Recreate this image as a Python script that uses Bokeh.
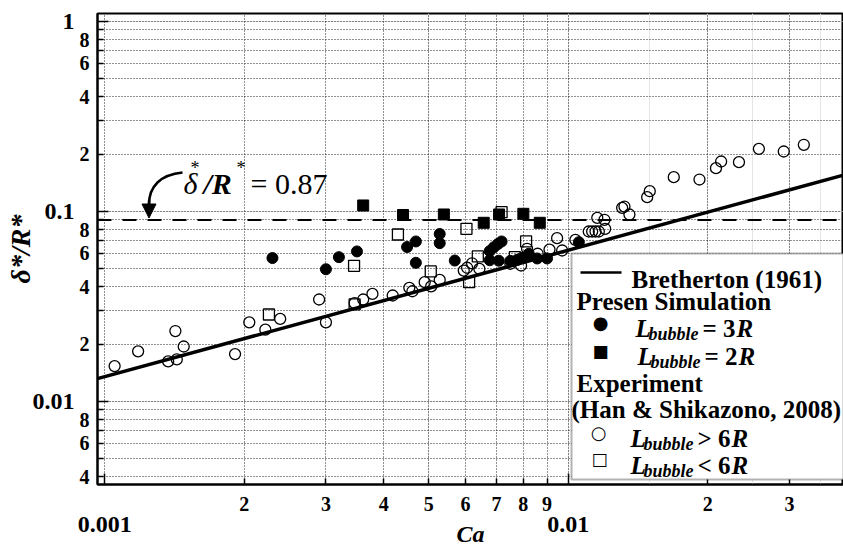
import numpy as np
from bokeh.plotting import figure
from bokeh.models import (LogAxis, FixedTicker, Grid, Range1d, Span, Label,
                          BoxAnnotation, Arrow, NormalHead)
from bokeh.embed import file_html
from bokeh.resources import INLINE

# ---------------- data ----------------
bretherton_ca = [0.00096, 0.0393]
bretherton_delta = [0.0131, 0.155]
critical_delta = 0.09

sim3_ca = [0.00230, 0.00300, 0.00320, 0.00350, 0.00449, 0.00469, 0.00469, 0.00528,
           0.00528, 0.00569, 0.00677, 0.00691, 0.00705, 0.00718, 0.00677, 0.00708,
           0.00750, 0.00776, 0.00795, 0.00822, 0.00857, 0.00900, 0.01054]
sim3_delta = [0.0567, 0.0495, 0.0573, 0.0614, 0.0648, 0.0693, 0.0535, 0.0759,
              0.0679, 0.0550, 0.0617, 0.0646, 0.0672, 0.0693, 0.0552, 0.0549,
              0.0548, 0.0555, 0.0569, 0.0597, 0.0564, 0.0564, 0.0687]

sim2_ca = [0.00361, 0.00440, 0.00539, 0.00657, 0.00709, 0.00800, 0.00868]
sim2_delta = [0.1072, 0.0955, 0.0961, 0.0869, 0.0961, 0.0969, 0.0869]

exp_long_ca = [0.00105, 0.00118, 0.00142, 0.00137, 0.00143, 0.00148, 0.00191, 0.00205,
               0.00222, 0.00239, 0.00290, 0.00300, 0.00346, 0.00361, 0.00378, 0.00418,
               0.00454, 0.00461, 0.00490, 0.00506, 0.00528, 0.00595, 0.00605, 0.00620,
               0.00643, 0.00750, 0.00791, 0.00815, 0.00859, 0.00911, 0.00946, 0.00970,
               0.01036, 0.01107, 0.01126, 0.01145, 0.01164, 0.01155, 0.01197, 0.01201,
               0.01307, 0.01322, 0.01355, 0.01480, 0.01499, 0.01689, 0.01919, 0.02083,
               0.02137, 0.02335, 0.02578, 0.02917, 0.03223]
exp_long_delta = [0.0153, 0.0183, 0.0234, 0.0162, 0.0166, 0.0194, 0.0177, 0.0260,
                  0.0238, 0.0271, 0.0343, 0.0260, 0.0328, 0.0343, 0.0367, 0.0360,
                  0.0395, 0.0379, 0.0423, 0.0402, 0.0435, 0.0487, 0.0504, 0.0532,
                  0.0497, 0.0529, 0.0518, 0.0634, 0.0597, 0.0628, 0.0721, 0.0621,
                  0.0707, 0.0782, 0.0782, 0.0782, 0.0782, 0.0923, 0.0901, 0.0808,
                  0.1042, 0.1058, 0.0961, 0.1185, 0.1274, 0.1510, 0.1468, 0.1684,
                  0.1826, 0.1811, 0.2130, 0.2062, 0.2236]

exp_short_ca = [0.00226, 0.00345, 0.00346, 0.00429, 0.00505, 0.00603, 0.00611,
                0.00638, 0.00718, 0.00767, 0.00811]
exp_short_delta = [0.0286, 0.0516, 0.0323, 0.0754, 0.0482, 0.0808, 0.0423,
                   0.0578, 0.0988, 0.0573, 0.0693]

# ticks and tick labels
x_ticks = [0.001, 0.002, 0.003, 0.004, 0.005, 0.006, 0.007, 0.008, 0.009,
           0.01, 0.02, 0.03]
x_digit_labels = ["", "2", "3", "4", "5", "6", "7", "8", "9", "", "2", "3"]
x_decades = [0.001, 0.01]
x_decade_labels = ["0.001", "0.01"]

y_ticks = [0.004, 0.005, 0.006, 0.007, 0.008, 0.009,
           0.01, 0.02, 0.03, 0.04, 0.05, 0.06, 0.07, 0.08, 0.09,
           0.1, 0.2, 0.3, 0.4, 0.5, 0.6, 0.7, 0.8, 0.9, 1.0]
y_digit_labels = ["4", "", "6", "", "8", "",
                  "", "2", "", "4", "", "6", "", "8", "",
                  "", "2", "", "4", "", "6", "", "8", "", ""]
y_decades = [0.01, 0.1, 1.0]
y_decade_labels = ["0.01", "0.1", "1"]

x_title = "Ca"
y_title = "\u03b4*/R*"

# ---------------- layout constants ----------------
X_LO, X_HI = 0.0009644, 0.03925
Y_LO, Y_HI = 0.003644, 1.0978
FR_L, FR_R, FR_T, FR_B = 97.0, 843.0, 13.0, 484.0   # frame edges in px
LX0, LX1 = np.log10(X_LO), np.log10(X_HI)
LY0, LY1 = np.log10(Y_LO), np.log10(Y_HI)


def px2x(px):
    return 10 ** (LX0 + (px - FR_L) / (FR_R - FR_L) * (LX1 - LX0))


def px2y(py):
    return 10 ** (LY1 - (py - FR_T) / (FR_B - FR_T) * (LY1 - LY0))


SERIF = "Liberation Serif"

p = figure(width=843, height=549, x_axis_type="log", y_axis_type="log",
           x_range=Range1d(X_LO, X_HI), y_range=Range1d(Y_LO, Y_HI),
           x_axis_location=None, y_axis_location=None,
           output_backend="svg", toolbar_location=None,
           min_border_left=97, min_border_right=0, min_border_top=13,
           min_border_bottom=65)
p.outline_line_color = "black"
p.outline_line_width = 2
p.background_fill_color = "white"
p.border_fill_color = "white"

# grids
for dim, ticks in ((0, x_ticks), (1, y_ticks)):
    g = Grid(dimension=dim, ticker=FixedTicker(ticks=ticks),
             grid_line_color="#222222", grid_line_dash="1 2", grid_line_width=1)
    p.add_layout(g)


def tick_axis(decades, ticks):
    minor = [t for t in ticks if t not in decades]
    return LogAxis(ticker=FixedTicker(ticks=decades, minor_ticks=minor),
                   major_tick_in=11, major_tick_out=0, minor_tick_in=6, minor_tick_out=0,
                   major_tick_line_width=1.5, minor_tick_line_width=1.5,
                   axis_line_width=2,
                   major_label_overrides={d: " " for d in decades},
                   major_label_text_font_size="1px",
                   major_label_standoff=0)


def label_axis(ticks, labels, size, standoff, title=None, title_size="24px",
               title_standoff=0):
    ax = LogAxis(ticker=FixedTicker(ticks=ticks, minor_ticks=[]),
                 major_label_overrides=dict(zip(ticks, labels)),
                 axis_line_color=None, major_tick_line_color=None,
                 minor_tick_line_color=None, major_tick_in=0, major_tick_out=0,
                 minor_tick_in=0, minor_tick_out=0,
                 major_label_standoff=standoff,
                 major_label_text_font=SERIF, major_label_text_font_size=size,
                 major_label_text_font_style="bold", major_label_text_color="black")
    if title is not None:
        ax.axis_label = title
        ax.axis_label_text_font = SERIF
        ax.axis_label_text_font_size = title_size
        ax.axis_label_text_font_style = "bold italic"
        ax.axis_label_text_color = "black"
        ax.axis_label_standoff = title_standoff
    return ax


p.add_layout(tick_axis(x_decades, x_ticks), "below")
p.add_layout(label_axis(x_ticks, x_digit_labels, "20px", 8), "below")
p.add_layout(label_axis(x_decades, x_decade_labels, "24px", 3,
                        title=x_title, title_size="24px", title_standoff=-14), "below")

p.add_layout(tick_axis(y_decades, y_ticks), "left")
p.add_layout(label_axis(y_ticks, y_digit_labels, "20px", 5), "left")
p.add_layout(label_axis(y_decades, y_decade_labels, "24px", 2,
                        title=y_title, title_size="28px", title_standoff=-6), "left")

# reference lines and data
p.add_layout(Span(location=critical_delta, dimension="width", line_color="black",
                  line_width=2, line_dash="14 11"))
p.line(bretherton_ca, bretherton_delta, line_color="black", line_width=3.5)
p.scatter(exp_long_ca, exp_long_delta, marker="circle", size=11, fill_color=None,
          line_color="black", line_width=1.3)
p.scatter(exp_short_ca, exp_short_delta, marker="square", size=11, fill_color=None,
          line_color="black", line_width=1.3)
p.scatter(sim3_ca, sim3_delta, marker="circle", size=11, fill_color="black",
          line_color="black")
p.scatter(sim2_ca, sim2_delta, marker="square", size=11, fill_color="black",
          line_color="black")

# curved arrow to the critical line
p.bezier(x0=[px2x(182)], y0=[px2y(172)], x1=[px2x(148.5)], y1=[px2y(204)],
         cx0=[px2x(160)], cy0=[px2y(174)], cx1=[px2x(148.5)], cy1=[px2y(186)],
         line_color="black", line_width=2.5)
p.add_layout(Arrow(end=NormalHead(size=14, fill_color="black", line_color="black"),
                   x_start=px2x(148.5), y_start=px2y(200),
                   x_end=px2x(148.5), y_end=px2y(217.5),
                   line_color="black", line_width=2.5))


def lab(text, px, py, size, style="normal", font=SERIF, align="left",
        baseline="alphabetic", angle=0.0):
    p.add_layout(Label(x=px2x(px), y=px2y(py), text=text, text_font=font,
                       text_font_size=size, text_font_style=style,
                       text_color="black", text_align=align,
                       text_baseline=baseline, angle=angle))


# annotation text
lab("\u03b4", 183, 183, "30px", "italic")
lab("*", 190, 167, "18px")
lab("/R", 203, 183, "30px", "bold italic")
lab("*", 236, 167, "18px")
lab("= 0.87", 250, 183, "30px")

# legend (built by hand)
p.add_layout(BoxAnnotation(left=px2x(571), right=X_HI, top=px2y(253),
                           bottom=px2y(479), fill_color="white", fill_alpha=1.0,
                           line_color="black", line_width=2))
p.add_layout(Arrow(start=None, end=None, x_start=px2x(580), y_start=px2y(272),
                   x_end=px2x(621), y_end=px2y(272), line_color="black",
                   line_width=2.5))
lab("Bretherton (1961)", 631, 279, "25px", "bold")
lab("Presen Simulation", 576, 301, "25px", "bold")
lab("Experiment", 576, 383, "25px", "bold")
lab("(Han & Shikazono, 2008)", 571, 409, "25px", "bold")

MK = "DejaVu Sans"
lab("\u25cf", 600, 322, "18px", font=MK, align="center", baseline="middle")
lab("\u25a0", 600, 350, "17px", font=MK, align="center", baseline="middle")
lab("\u25cb", 598, 432, "18px", font=MK, align="center", baseline="middle")
lab("\u25a1", 599, 458, "17px", font=MK, align="center", baseline="middle")

rows = [(635, 328, "= 3"), (637, 356, "= 2"), (630, 438, "> 6"), (630, 465, "< 6")]
for lx, base, rel in rows:
    lab("L", lx, base, "25px", "bold italic")
    lab("bubble", lx + 13, base + 5, "18px", "bold italic")
    lab(rel, lx + 67, base, "25px", "bold")
    lab("R", lx + 67 + 34, base, "25px", "bold italic")

open("out.html", "w").write(file_html(p, INLINE))
